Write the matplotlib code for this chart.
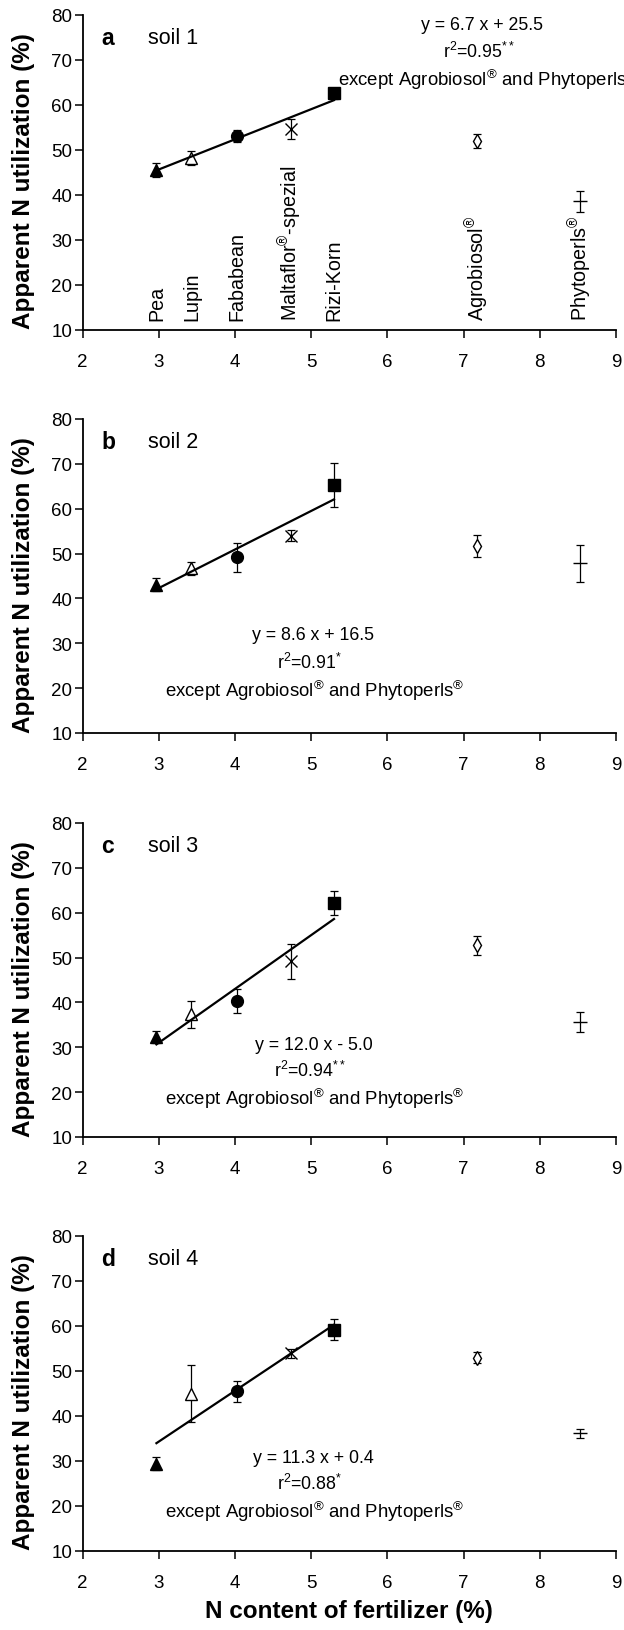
import matplotlib
matplotlib.use("Agg")
import matplotlib.pyplot as plt
import numpy as np

plt.rcParams['font.family'] = ['Liberation Sans', 'DejaVu Sans']
plt.rcParams['mathtext.fontset'] = 'custom'
plt.rcParams['mathtext.rm'] = 'Liberation Sans'
plt.rcParams['mathtext.it'] = 'Liberation Sans'
plt.rcParams['mathtext.bf'] = 'Liberation Sans:bold'

# Fertilizers and N content (%)
fertilizers = ['Pea', 'Lupin', 'Fababean', 'Maltaflor$^{®}$-spezial', 'Rizi-Korn',
               'Agrobiosol$^{®}$', 'Phytoperls$^{®}$']
n_content = [2.97, 3.43, 4.03, 4.73, 5.30, 7.18, 8.53]

# Apparent N utilization (%) and error per soil
soil1 = [45.5, 48.2, 53.0, 54.6, 62.5, 52.0, 38.5]
soil1_err = [1.5, 1.6, 1.3, 2.3, 1.3, 1.6, 2.4]
soil2 = [43.1, 46.7, 49.2, 54.0, 65.3, 51.7, 47.8]
soil2_err = [1.5, 1.4, 3.2, 1.3, 5.0, 2.4, 4.2]
soil3 = [32.3, 37.4, 40.3, 49.2, 62.2, 52.7, 35.6]
soil3_err = [1.4, 3.0, 2.7, 3.9, 2.6, 2.2, 2.2]
soil4 = [29.4, 45.0, 45.5, 54.0, 59.2, 53.0, 36.2]
soil4_err = [1.4, 6.3, 2.3, 1.0, 2.3, 1.2, 1.0]

# Regression (first five fertilizers)
slopes = [6.7, 8.6, 12.0, 11.3]
intercepts = [25.5, 16.5, -5.0, 0.4]
eq_texts = ['y = 6.7 x + 25.5', 'y = 8.6 x + 16.5', 'y = 12.0 x - 5.0', 'y = 11.3 x + 0.4']
r2_texts = ['r$^{2}$=0.95$^{**}$', 'r$^{2}$=0.91$^{*}$', 'r$^{2}$=0.94$^{**}$', 'r$^{2}$=0.88$^{*}$']
panel_letters = ['a', 'b', 'c', 'd']
soil_names = ['soil 1', 'soil 2', 'soil 3', 'soil 4']
except_text = 'except Agrobiosol$^{®}$ and Phytoperls$^{®}$'

x_ticks = [2, 3, 4, 5, 6, 7, 8, 9]
y_ticks = [10, 20, 30, 40, 50, 60, 70, 80]

markers = [dict(marker='^', mfc='black', ms=8),
           dict(marker='^', mfc='white', ms=8),
           dict(marker='o', mfc='black', ms=8.5),
           dict(marker='x', mfc='none', ms=8),
           dict(marker='s', mfc='black', ms=8),
           dict(marker='d', mfc='white', ms=7.5),
           dict(marker='_', mfc='none', ms=10)]

values = [soil1, soil2, soil3, soil4]
errors = [soil1_err, soil2_err, soil3_err, soil4_err]

W, H = 624, 1631
fig = plt.figure(figsize=(W / 100, H / 100), dpi=100)
left_px, right_px = 82.5, 616
tops = [15.7, 420, 824, 1237]
heights = [315, 314, 314, 315]

for i in range(4):
    t = tops[i]
    b = t + heights[i]
    ax = fig.add_axes([left_px / W, 1 - b / H, (right_px - left_px) / W, heights[i] / H])
    for j in range(7):
        m = markers[j]
        ax.errorbar(n_content[j], values[i][j], yerr=errors[i][j], fmt='none',
                    ecolor='black', elinewidth=0.9, capsize=3, capthick=0.9, zorder=2)
        ax.plot(n_content[j], values[i][j], linestyle='none', marker=m['marker'],
                mfc=m['mfc'], mec='black', ms=m['ms'], mew=1.0, zorder=3)
    xs = np.array([n_content[0], n_content[4]])
    ax.plot(xs, slopes[i] * xs + intercepts[i], color='black', lw=1.6, zorder=4)

    ax.set_xlim(2, 9)
    ax.set_ylim(10, 80)
    ax.set_xticks(x_ticks)
    ax.set_yticks(y_ticks)
    ax.tick_params(direction='out', length=6, width=1.1, labelsize=13.5)
    ax.tick_params(axis='y', pad=1.5)
    ax.tick_params(axis='x', pad=10.5)
    for s in ['top', 'right']:
        ax.spines[s].set_visible(False)
    for s in ['left', 'bottom']:
        ax.spines[s].set_linewidth(1.3)
    ax.set_ylabel('Apparent N utilization (%)', fontsize=17.5, fontweight='bold', va='center')
    ax.yaxis.set_label_coords(-0.11, 0.475)

    ax.text(2.25, 75, panel_letters[i], fontsize=16.5, fontweight='bold', va='center', ha='left')
    ax.text(2.86, 75, soil_names[i], fontsize=15.5, va='center', ha='left')

    if i == 0:
        ax.text(7.24, 77.9, eq_texts[i], fontsize=12.8, ha='center', va='center')
        ax.text(7.2, 72.0, r2_texts[i], fontsize=12.8, ha='center', va='center')
        ax.text(5.35, 65.7, except_text, fontsize=13.4, ha='left', va='center', clip_on=False)
        for j in range(7):
            ax.text(n_content[j], 12.2, fertilizers[j], rotation=90, fontsize=14.2,
                    ha='center', va='bottom')
    else:
        ey = [None, (31.9, 25.8, 19.5), (30.7, 25.0, 18.6), (30.7, 25.2, 18.9)][i]
        ax.text(5.03, ey[0], eq_texts[i], fontsize=12.8, ha='center', va='center')
        ax.text(4.98, ey[1], r2_texts[i], fontsize=12.8, ha='center', va='center')
        ax.text(5.05, ey[2], except_text, fontsize=13.4, ha='center', va='center')
    if i == 3:
        ax.set_xlabel('N content of fertilizer (%)', fontsize=17.5, fontweight='bold', labelpad=6)

fig.savefig('out.png', dpi=100)
